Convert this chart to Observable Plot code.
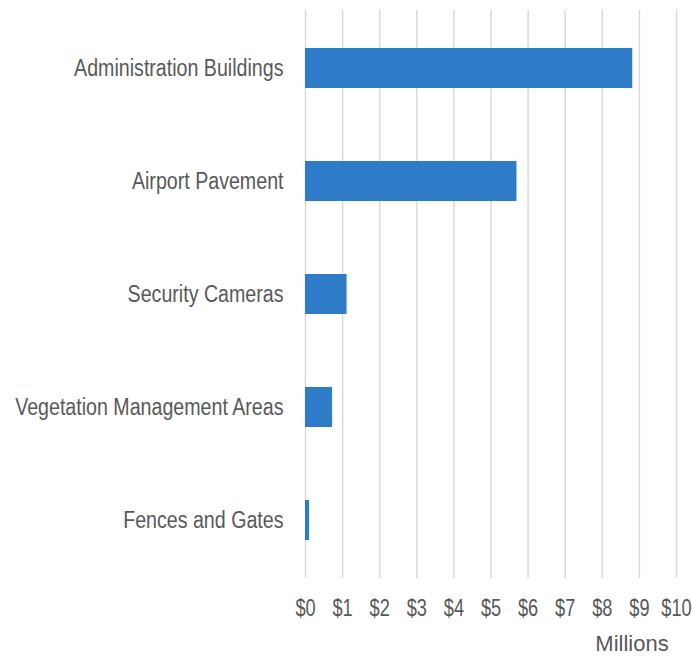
<!DOCTYPE html>
<html>
<head>
<meta charset="utf-8">
<script src="https://cdn.jsdelivr.net/npm/d3@7"></script>
<script src="https://cdn.jsdelivr.net/npm/@observablehq/plot@0.6"></script>
<style>
  html, body { margin: 0; padding: 0; background: #fff; }
  #chart svg { display: block; }
</style>
</head>
<body>
<div id="chart"></div>
<script>
const categories = ["Administration Buildings", "Airport Pavement", "Security Cameras", "Vegetation Management Areas", "Fences and Gates"];
const values = [8.82, 5.70, 1.12, 0.73, 0.11];
const xTicks = [0, 1, 2, 3, 4, 5, 6, 7, 8, 9, 10];
const unitLabel = "Millions";

const data = categories.map((c, i) => ({category: c, value: values[i]}));

const chart = Plot.plot({
  width: 692,
  height: 656,
  marginLeft: 305,
  marginRight: 16,
  marginTop: 10,
  marginBottom: 78,
  style: {fontFamily: "'Liberation Sans', Arial, sans-serif", color: "#595959", background: "#fff"},
  x: {domain: [0, 10], ticks: xTicks},
  y: {domain: categories, paddingInner: 0.65, paddingOuter: 0.325},
  marks: [
    Plot.ruleX(xTicks, {stroke: "#d9d9d9", strokeWidth: 1.5, strokeOpacity: 1}),
    Plot.barX(data, {x: "value", y: "category", fill: "#2e7bc8"}),
    Plot.axisX({ticks: xTicks, tickSize: 0, tickPadding: 21, tickFormat: d => "$" + d, fontSize: 23, fill: "#595959", label: null}),
    Plot.text([unitLabel], {x: [8.8], frameAnchor: "bottom", dy: 72, text: d => d, fontSize: 22, fill: "#595959", textAnchor: "middle"}),
    Plot.axisY({tickSize: 0, tickPadding: 22, fontSize: 23.5, fill: "#595959", label: null})
  ]
});
document.getElementById("chart").appendChild(chart);

// condense axis labels horizontally (reference uses a narrow face)
function condense(sel, k) {
  chart.querySelectorAll(sel).forEach(t => {
    const len = t.getComputedTextLength();
    t.setAttribute("textLength", (len * k).toFixed(2));
    t.setAttribute("lengthAdjust", "spacingAndGlyphs");
  });
}
condense("g[aria-label='x-axis tick label'] text", 0.79);
condense("g[aria-label='y-axis tick label'] text", 0.835);
</script>
</body>
</html>
